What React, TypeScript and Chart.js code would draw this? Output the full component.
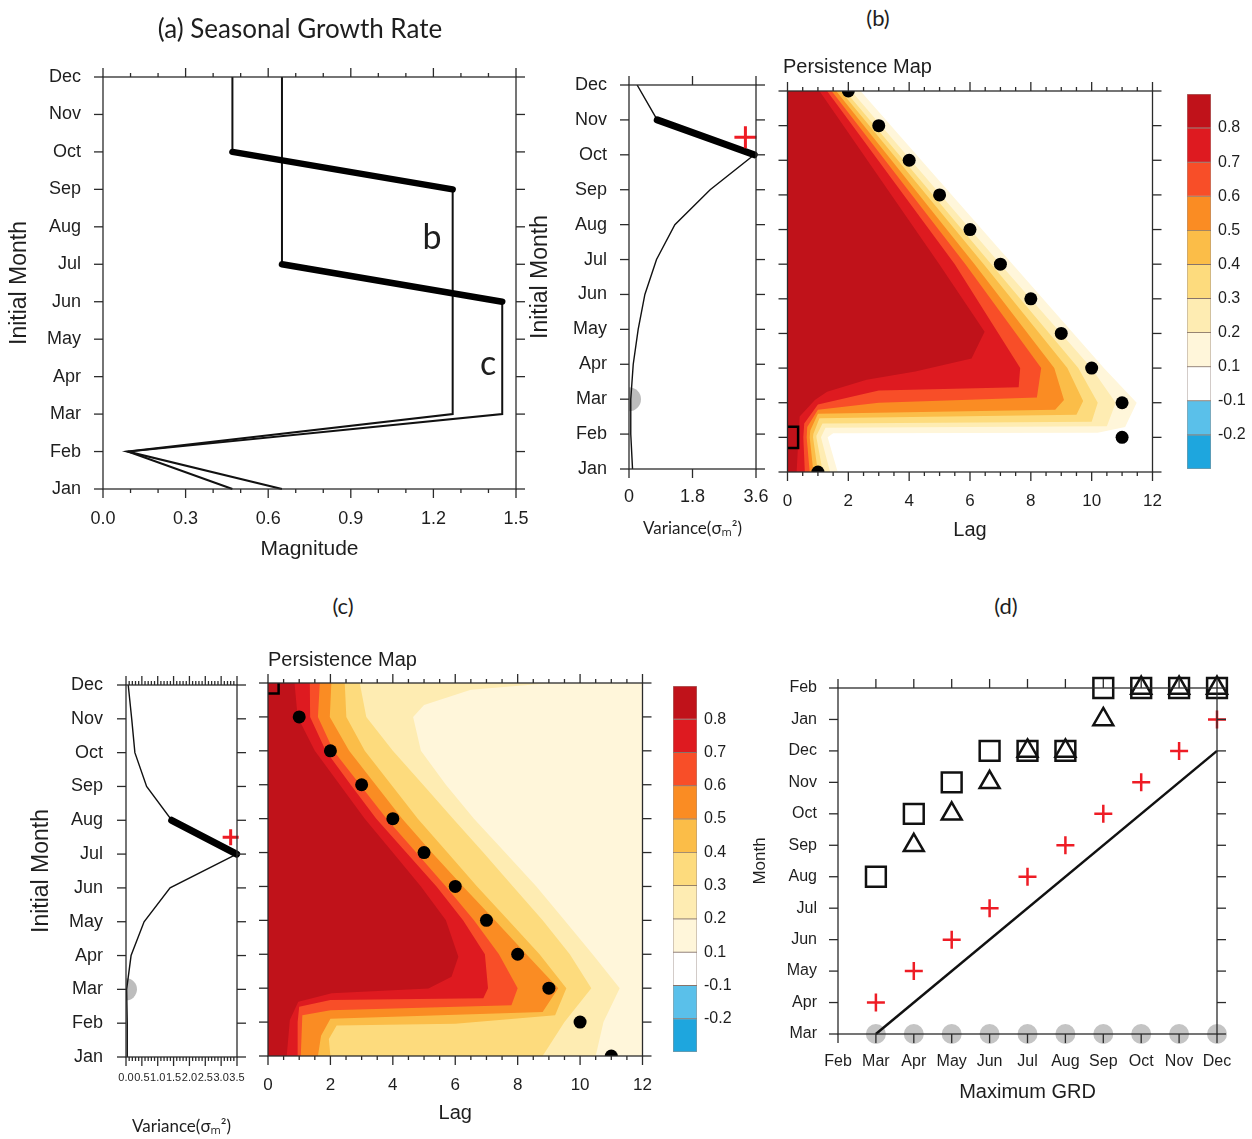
import React, { useEffect, useRef } from 'react';
import { Chart, registerables } from 'chart.js';

Chart.register(...registerables);

// ---------------- data ----------------
const MONTHS = ['Jan', 'Feb', 'Mar', 'Apr', 'May', 'Jun', 'Jul', 'Aug', 'Sep', 'Oct', 'Nov', 'Dec'];

// (a) seasonal growth rate (index = month, Jan..Dec)
const GROWTH_B = [0.47, 0.09, 1.27, 1.27, 1.27, 1.27, 1.27, 1.27, 1.27, 0.47, 0.47, 0.47];
const GROWTH_C = [0.65, 0.09, 1.45, 1.45, 1.45, 1.45, 0.65, 0.65, 0.65, 0.65, 0.65, 0.65];
const THICK_B = [8, 9];
const THICK_C = [5, 6];

// (b) variance + persistence
const VAR_B = [0.1, 0.05, 0.05, 0.12, 0.26, 0.45, 0.78, 1.3, 2.3, 3.55, 0.8, 0.23];
const VAR_B_THICK = [9, 10];
const VAR_B_PLUS = [3.3, 9.5];
const VAR_B_GRAY = [0, 2];
const LAG_B = [1, 11, 11, 10, 9, 8, 7, 6, 5, 4, 3, 2];
const BOX_B = [0, 1];
// contour edges [lag, month] for levels 0.1 .. 0.8
const EDGES_B = [
  [[2.4, 11], [7.4, 6], [10.4, 3], [11.48, 2], [11.1, 1.3], [10.2, 1.13], [1.5, 1.12], [1.32, 1], [1.65, 0]],
  [[2.1, 11], [7.0, 6], [9.99, 3], [10.79, 2], [10.5, 1.32], [1.25, 1.28], [1.1, 1], [1.4, 0]],
  [[1.9, 11], [6.7, 6], [9.56, 3], [10.2, 2], [10.0, 1.45], [1.15, 1.4], [0.95, 1.05], [0.95, 1], [1.16, 0]],
  [[1.75, 11], [6.45, 6], [9.2, 3], [9.72, 2.05], [9.5, 1.65], [1.05, 1.55], [0.85, 1.1], [0.84, 1], [1.0, 0]],
  [[1.6, 11], [6.15, 6], [8.77, 3], [9.09, 2.08], [8.8, 1.8], [1.0, 1.68], [0.75, 1.2], [0.73, 1], [0.85, 0]],
  [[1.45, 11], [5.85, 6], [8.34, 3], [8.2, 2.15], [3.0, 2.0], [1.0, 1.8], [0.65, 1.3], [0.63, 1], [0.73, 0]],
  [[1.3, 11], [5.5, 6], [7.65, 3], [7.6, 2.45], [3.0, 2.35], [1.0, 1.95], [0.55, 1.4], [0.52, 1], [0.57, 0]],
  [[1.05, 11], [4.99, 6], [6.48, 4.05], [6.05, 3.28], [4.2, 2.9], [2.6, 2.66], [1.3, 2.32], [0.9, 2.08], [0.4, 1.6], [0.36, 1], [0.3, 0]],
];

// (c) variance + persistence
const VAR_C = [0.04, 0.04, 0.02, 0.16, 0.57, 1.39, 3.49, 1.44, 0.65, 0.28, 0.18, 0.07];
const VAR_C_THICK = [6, 7];
const VAR_C_PLUS = [3.3, 6.5];
const VAR_C_GRAY = [0, 2];
const LAG_C = [11, 10, 9, 8, 7, 6, 5, 4, 3, 2, 1, null];
const BOX_C = [0, 11];
const EDGES_C = [
  [[12, 11], [12, 0]],
  [[9.1, 11], [6.5, 10.8], [5.0, 10.35], [4.65, 10], [4.9, 9], [5.7, 8], [6.6, 7], [7.6, 6], [8.6, 5], [9.5, 4], [10.4, 3], [11.27, 2], [10.75, 1], [10.5, 0]],
  [[2.94, 11], [3.15, 10], [4.0, 9], [4.97, 8], [5.93, 7], [6.9, 6], [7.85, 5], [8.8, 4], [9.67, 3], [10.36, 2], [9.5, 1], [8.8, 0]],
  [[2.46, 11], [2.51, 10], [3.1, 9], [3.95, 8], [4.8, 7], [5.75, 6], [6.7, 5], [7.7, 4], [8.7, 3], [9.56, 2], [9.2, 1.2], [6.0, 0.95], [2.2, 0.9], [1.95, 0.5], [2.0, 0]],
  [[2.03, 11], [1.98, 10], [2.6, 9], [3.45, 8], [4.3, 7], [5.25, 6], [6.25, 5], [7.27, 4], [8.28, 3], [9.3, 2], [8.8, 1.3], [2.0, 1.1], [1.7, 0.6], [1.6, 0]],
  [[1.66, 11], [1.6, 10], [2.1, 9], [2.95, 8], [3.8, 7], [4.75, 6], [5.7, 5], [6.6, 4], [7.4, 3], [8.0, 2], [7.8, 1.5], [2.0, 1.35], [1.1, 1.2], [1.05, 0]],
  [[1.34, 11], [1.35, 10], [1.85, 9], [2.65, 8], [3.47, 7], [4.43, 6], [5.4, 5], [6.25, 4], [6.95, 3], [7.05, 2], [6.9, 1.7], [2.0, 1.65], [1.0, 1.45], [0.95, 1.0], [0.95, 0]],
  [[0.85, 11], [0.95, 10], [1.5, 9], [2.3, 8], [3.1, 7], [4.0, 6], [4.9, 5], [5.7, 4], [6.1, 2.93], [5.88, 2.34], [5.14, 1.99], [2.04, 1.85], [0.97, 1.6], [0.7, 1.06], [0.6, 0]],
];

// colour scale
const LEVEL_COLORS = ['#fff6da', '#feecb2', '#fddb7d', '#fbbd48', '#fa8c23', '#f84e28', '#de1a20', '#c0121a'];
const CB_COLORS = ['#1ea6de', '#5ac0ea', '#ffffff', ...LEVEL_COLORS];
const CB_LABELS = ['', '-0.2', '-0.1', '0.1', '0.2', '0.3', '0.4', '0.5', '0.6', '0.7', '0.8', ''];

// (d)
const D_X_LABELS = ['Feb', 'Mar', 'Apr', 'May', 'Jun', 'Jul', 'Aug', 'Sep', 'Oct', 'Nov', 'Dec'];
const D_Y_LABELS = ['Mar', 'Apr', 'May', 'Jun', 'Jul', 'Aug', 'Sep', 'Oct', 'Nov', 'Dec', 'Jan', 'Feb'];
const D_GRD_X = [1, 2, 3, 4, 5, 6, 7, 8, 9, 10];
const D_PLUS_Y = [1, 2, 3, 4, 5, 6, 7, 8, 9, 10];
const D_SQUARE_Y = [5, 7, 8, 9, 9, 9, 11, 11, 11, 11];
const D_TRI_X = [2, 3, 4, 5, 6, 7, 8, 9, 10];
const D_TRI_Y = [6, 7, 8, 9, 9, 10, 11, 11, 11];
const D_LINE_X = [1, 10];
const D_LINE_Y = [0, 9];

// ---------------- helpers ----------------
const FONT = "'Liberation Sans', Arial, Helvetica, sans-serif";
const TITLE_FONT = "Lato, 'Open Sans', sans-serif";
const TXT = '#1e1e1e';
const RED = '#ee1c25';

function baseOptions(padding: any) {
  return {
    responsive: false,
    animation: false,
    events: [],
    layout: { padding },
    plugins: { legend: { display: false }, tooltip: { enabled: false }, title: { display: false } },
  };
}

function axis(o: any) {
  return {
    type: 'linear',
    min: o.min,
    max: o.max,
    position: o.position,
    afterFit: (s: any) => {
      if (o.w !== undefined) s.width = o.w;
      if (o.h !== undefined) s.height = o.h;
      s.paddingLeft = 0; s.paddingRight = 0; s.paddingTop = 0; s.paddingBottom = 0;
    },
    grid: { display: false, drawTicks: false },
    border: { display: false },
    ticks: {
      display: o.labels !== false,
      stepSize: o.step,
      autoSkip: false,
      maxRotation: 0,
      minRotation: 0,
      padding: o.pad ?? 0,
      color: TXT,
      font: { family: FONT, size: o.size ?? 18 },
      callback: o.cb,
    },
    title: o.title
      ? { display: true, text: o.title, color: TXT, font: { family: o.titleFont ?? FONT, size: o.titleSize }, padding: o.titlePad }
      : { display: false },
  };
}

function framePlugin(cfg: any) {
  return {
    id: 'frame',
    afterDraw(chart: any) {
      const { ctx, chartArea: a } = chart;
      const xs = chart.scales.x, ys = chart.scales.y;
      ctx.save();
      ctx.strokeStyle = '#2b2b2b';
      ctx.lineWidth = 1.3;
      ctx.strokeRect(a.left, a.top, a.right - a.left, a.bottom - a.top);
      const seg = (x1: number, y1: number, x2: number, y2: number) => {
        ctx.beginPath(); ctx.moveTo(x1, y1); ctx.lineTo(x2, y2); ctx.stroke();
      };
      const M = cfg.major ?? 9, m = cfg.minor ?? 4;
      const xMaj = xs.ticks.map((t: any) => t.value);
      const yMaj = ys.ticks.map((t: any) => t.value);
      const drawX = (v: number, len: number) => {
        const p = xs.getPixelForValue(v);
        seg(p, a.top, p, a.top - len); seg(p, a.bottom, p, a.bottom + len);
      };
      const drawY = (v: number, len: number) => {
        const p = ys.getPixelForValue(v);
        seg(a.left, p, a.left - len, p); seg(a.right, p, a.right + len, p);
      };
      xMaj.forEach((v: number) => drawX(v, M));
      yMaj.forEach((v: number) => drawY(v, M));
      if (cfg.xMinor) {
        for (let k = 0; ; k++) {
          const v = xs.min + k * cfg.xMinor;
          if (v > xs.max + 1e-9) break;
          if (!xMaj.some((t: number) => Math.abs(t - v) < 1e-6)) drawX(v, m);
        }
      }
      ctx.restore();
    },
  };
}

function contourPlugin(edges: number[][][], colors: string[]) {
  return {
    id: 'contour',
    beforeDatasetsDraw(chart: any) {
      const { ctx, chartArea: a } = chart;
      const xs = chart.scales.x, ys = chart.scales.y;
      ctx.save();
      ctx.beginPath();
      ctx.rect(a.left, a.top, a.right - a.left, a.bottom - a.top);
      ctx.clip();
      edges.forEach((pts, i) => {
        ctx.beginPath();
        ctx.moveTo(xs.getPixelForValue(0), ys.getPixelForValue(ys.max));
        pts.forEach(([lag, mon]) => ctx.lineTo(xs.getPixelForValue(lag), ys.getPixelForValue(mon)));
        ctx.lineTo(xs.getPixelForValue(0), ys.getPixelForValue(ys.min));
        ctx.closePath();
        ctx.fillStyle = colors[i];
        ctx.fill();
      });
      ctx.restore();
    },
  };
}

// ---------------- chart configs ----------------
function configA() {
  const lineB = GROWTH_B.map((v, i) => ({ x: v, y: i }));
  const lineC = GROWTH_C.map((v, i) => ({ x: v, y: i }));
  const thickB = THICK_B.map((i) => ({ x: GROWTH_B[i], y: i }));
  const thickC = THICK_C.map((i) => ({ x: GROWTH_C[i], y: i }));
  const thin = { showLine: true, borderColor: '#111', borderWidth: 2, pointRadius: 0, clip: false };
  const thick = { showLine: true, borderColor: '#000', borderWidth: 6.5, pointRadius: 0, borderCapStyle: 'round', clip: false };
  return {
    type: 'scatter',
    data: {
      datasets: [
        { ...thick, data: thickB },
        { ...thick, data: thickC },
        { ...thin, data: lineB },
        { ...thin, data: lineC },
      ],
    },
    options: {
      ...baseOptions({ top: 37, right: 44, left: 0, bottom: 0 }),
      scales: {
        x: axis({ min: 0, max: 1.5, step: 0.3, h: 91, pad: 19, size: 18, cb: (v: number) => v.toFixed(1), title: 'Magnitude', titleSize: 21, titlePad: 18 }),
        y: axis({ min: 0, max: 11, step: 1, w: 103, pad: 22, size: 18, cb: (v: number) => MONTHS[v] ?? '', title: 'Initial Month', titleSize: 23, titlePad: 6 }),
      },
    },
    plugins: [framePlugin({ xMinor: 0.1, major: 9, minor: 4 })],
  };
}

function varianceConfig(p: any) {
  const line = p.values.map((v: number, i: number) => ({ x: v, y: i }));
  const thick = p.thick.map((i: number) => ({ x: p.values[i], y: i }));
  return {
    type: 'scatter',
    data: {
      datasets: [
        { data: [{ x: p.plus[0], y: p.plus[1] }], pointStyle: 'cross', pointRadius: p.plusR, borderColor: RED, borderWidth: 3, clip: false },
        { data: thick, showLine: true, borderColor: '#000', borderWidth: p.thickW, pointRadius: 0, borderCapStyle: 'round', clip: false },
        { data: line, showLine: true, borderColor: '#111', borderWidth: 1.4, pointRadius: 0, clip: 0 },
        { data: [{ x: p.gray[0], y: p.gray[1] }], pointRadius: p.grayR, backgroundColor: '#bdbdbd', borderWidth: 0, clip: 0 },
      ],
    },
    options: {
      ...baseOptions(p.padding),
      scales: {
        x: axis(p.x),
        y: axis(p.y),
      },
    },
    plugins: [framePlugin({ xMinor: p.xMinor, major: 9, minor: 4 })],
  };
}

function mapConfig(p: any) {
  const dots = p.lags
    .map((lag: number | null, i: number) => (lag === null ? null : { x: lag, y: i }))
    .filter((d: any) => d !== null);
  return {
    type: 'scatter',
    data: {
      datasets: [
        { data: [{ x: p.box[0], y: p.box[1] }], pointStyle: 'rect', pointRadius: 15, backgroundColor: 'rgba(0,0,0,0)', borderColor: '#000', borderWidth: 2.5, clip: 0 },
        { data: dots, pointRadius: 6.5, backgroundColor: '#000', borderWidth: 0, clip: 0 },
      ],
    },
    options: {
      ...baseOptions(p.padding),
      scales: {
        x: axis({ min: 0, max: 12, step: 2, h: p.xh, pad: 19, size: 17, cb: (v: number) => String(v), title: 'Lag', titleSize: 20, titlePad: p.titlePad }),
        y: axis({ min: 0, max: 11, step: 1, w: p.yw, labels: false }),
      },
    },
    plugins: [contourPlugin(p.edges, LEVEL_COLORS), framePlugin({ xMinor: 0.5, major: 9, minor: 4 })],
  };
}

function colorbarConfig(p: any) {
  return {
    type: 'bar',
    data: {
      labels: [''],
      datasets: CB_COLORS.map((c) => ({
        data: [1],
        backgroundColor: c,
        borderColor: 'rgba(70,40,25,0.5)',
        borderWidth: 0.8,
        borderSkipped: false,
        barPercentage: 1,
        categoryPercentage: 1,
        stack: 'cb',
      })),
    },
    options: {
      ...baseOptions(p.padding),
      scales: {
        x: { display: false, stacked: true },
        y: {
          type: 'linear',
          stacked: true,
          position: 'right',
          min: 0,
          max: 11,
          afterFit: (s: any) => { s.width = p.w; s.paddingTop = 0; s.paddingBottom = 0; },
          grid: { display: false, drawTicks: false },
          border: { display: false },
          ticks: { stepSize: 1, autoSkip: false, padding: 7, color: TXT, font: { family: FONT, size: 16 }, callback: (v: number) => CB_LABELS[v] ?? '' },
        },
      },
    },
  };
}

function configD() {
  const plus = D_GRD_X.map((x, i) => ({ x, y: D_PLUS_Y[i] }));
  const squares = D_GRD_X.map((x, i) => ({ x, y: D_SQUARE_Y[i] }));
  const tris = D_TRI_X.map((x, i) => ({ x, y: D_TRI_Y[i] }));
  const gray = D_GRD_X.map((x) => ({ x, y: 0 }));
  const diag = D_LINE_X.map((x, i) => ({ x, y: D_LINE_Y[i] }));
  return {
    type: 'scatter',
    data: {
      datasets: [
        { data: plus, pointStyle: 'cross', pointRadius: 9, borderColor: RED, borderWidth: 2.5, clip: false },
        { data: tris, pointStyle: 'triangle', pointRadius: 11.5, backgroundColor: 'rgba(0,0,0,0)', borderColor: '#111', borderWidth: 2.5, clip: false },
        { data: squares, pointStyle: 'rect', pointRadius: 14, backgroundColor: 'rgba(0,0,0,0)', borderColor: '#111', borderWidth: 2.5, clip: false },
        { data: diag, showLine: true, borderColor: '#111', borderWidth: 2.5, pointRadius: 0, clip: false },
        { data: gray, pointRadius: 10, backgroundColor: '#c4c4c4', borderWidth: 0, clip: false },
      ],
    },
    options: {
      ...baseOptions({ top: 58, right: 35, left: 0, bottom: 0 }),
      scales: {
        x: axis({ min: 0, max: 10, step: 1, h: 105, pad: 18, size: 16, cb: (v: number) => D_X_LABELS[v] ?? '', title: 'Maximum GRD', titleSize: 20, titlePad: 35 }),
        y: axis({ min: 0, max: 11, step: 1, w: 93, pad: 21, size: 16, cb: (v: number) => D_Y_LABELS[v] ?? '', title: 'Month', titleSize: 17, titlePad: 5 }),
      },
    },
    plugins: [framePlugin({ major: 9 })],
  };
}

// ---------------- components ----------------
function ChartBox({ left, top, width, height, make }: any) {
  const ref = useRef<HTMLCanvasElement>(null);
  useEffect(() => {
    const chart = new Chart(ref.current as HTMLCanvasElement, make());
    return () => chart.destroy();
  }, []);
  return (
    <canvas
      ref={ref}
      width={width}
      height={height}
      style={{ position: 'absolute', left, top, width, height }}
    />
  );
}

function Label({ x, y, text, size, family, align }: any) {
  const tx = align === 'left' ? '0' : '-50%';
  return (
    <div
      style={{
        position: 'absolute',
        left: x,
        top: y,
        transform: `translate(${tx}, -50%)`,
        fontFamily: family ?? FONT,
        fontSize: size,
        color: TXT,
        whiteSpace: 'nowrap',
        lineHeight: 1,
      }}
    >
      {text}
    </div>
  );
}

export default function App() {
  const varX = 'Variance(σ\u2098\u00B2)';
  return (
    <div style={{ position: 'absolute', left: 0, top: 0, width: 1252, height: 1139, background: '#fff', overflow: 'hidden' }}>
      <ChartBox left={0} top={40} width={560} height={540} make={configA} />
      <ChartBox
        left={520} top={40} width={250} height={520}
        make={() => varianceConfig({
          values: VAR_B, thick: VAR_B_THICK, plus: VAR_B_PLUS, gray: VAR_B_GRAY,
          plusR: 11, grayR: 12, thickW: 7, xMinor: 0,
          padding: { top: 45, right: 13, left: 0, bottom: 0 },
          x: { min: 0, max: 3.6, step: 1.8, h: 91, pad: 17, size: 18, cb: (v: number) => (v === 0 ? '0' : v.toFixed(1)), title: varX, titleFont: TITLE_FONT, titleSize: 17, titlePad: 21 },
          y: { min: 0, max: 11, step: 1, w: 109, pad: 22, size: 18, cb: (v: number) => MONTHS[v] ?? '', title: 'Initial Month', titleSize: 23, titlePad: 7 },
        })}
      />
      <ChartBox
        left={770} top={40} width={400} height={520}
        make={() => mapConfig({ lags: LAG_B, box: BOX_B, edges: EDGES_B, padding: { top: 51, right: 12, left: 0, bottom: 0 }, xh: 88, yw: 12, titlePad: 18 })}
      />
      <ChartBox
        left={1170} top={40} width={82} height={520}
        make={() => colorbarConfig({ padding: { left: 17, top: 54, bottom: 91, right: 0 }, w: 41 })}
      />
      <ChartBox
        left={0} top={630} width={250} height={509}
        make={() => varianceConfig({
          values: VAR_C, thick: VAR_C_THICK, plus: VAR_C_PLUS, gray: VAR_C_GRAY,
          plusR: 8, grayR: 11, thickW: 7, xMinor: 0.1,
          padding: { top: 55, right: 13, left: 0, bottom: 0 },
          x: { min: 0, max: 3.5, step: 0.5, h: 82, pad: 14, size: 11, cb: (v: number) => v.toFixed(1), title: varX, titleFont: TITLE_FONT, titleSize: 17, titlePad: 2 },
          y: { min: 0, max: 11, step: 1, w: 126, pad: 23, size: 18, cb: (v: number) => MONTHS[v] ?? '', title: 'Initial Month', titleSize: 23, titlePad: 28 },
        })}
      />
      <ChartBox
        left={250} top={630} width={410} height={509}
        make={() => mapConfig({ lags: LAG_C, box: BOX_C, edges: EDGES_C, padding: { top: 53, right: 17, left: 0, bottom: 0 }, xh: 83, yw: 18, titlePad: 14 })}
      />
      <ChartBox
        left={660} top={630} width={85} height={509}
        make={() => colorbarConfig({ padding: { left: 13, top: 56, bottom: 87, right: 0 }, w: 48 })}
      />
      <ChartBox left={745} top={630} width={507} height={509} make={configD} />

      <Label x={300} y={28} text="(a) Seasonal Growth Rate" size={26} family={TITLE_FONT} />
      <Label x={878} y={18} text="(b)" size={22} family={TITLE_FONT} />
      <Label x={343} y={606} text="(c)" size={22} family={TITLE_FONT} />
      <Label x={1006} y={606} text="(d)" size={22} family={TITLE_FONT} />
      <Label x={783} y={66} text="Persistence Map" size={20} align="left" />
      <Label x={268} y={659} text="Persistence Map" size={20} align="left" />
      <Label x={432} y={236} text="b" size={34} family={TITLE_FONT} />
      <Label x={488} y={362} text="c" size={34} family={TITLE_FONT} />
    </div>
  );
}
